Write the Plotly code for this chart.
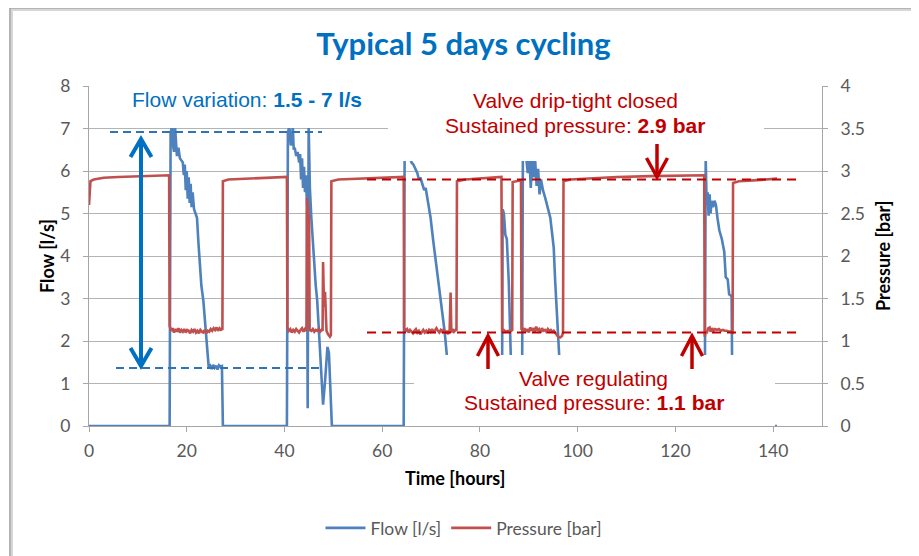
import plotly.graph_objects as go

# ---------------- data ----------------
flow_t = [0, 16.5,
          16.7, 17.0, 17.2, 17.4, 17.6, 17.8, 18.0, 18.3, 18.6, 18.9, 19.2, 19.4, 19.6, 19.8,
          20.0, 20.2, 20.4, 20.6, 20.8, 21.0, 21.2, 21.5, 21.8, 22.1, 22.4, 22.7, 23.0, 23.4,
          23.7, 24.0, 24.3, 24.5, 24.8, 25.1, 25.4, 25.7, 26.0, 26.3, 26.6, 26.9, 27.2, 27.4,
          40.5,
          40.7, 41.0, 41.3, 41.5, 41.7, 41.9, 42.1, 42.4, 42.7, 43.0, 43.2, 43.4, 43.6, 43.8,
          44.0, 44.2, 44.4, 44.6, 44.75, 44.95, 45.2, 45.5, 45.8, 46.1, 46.4, 46.7, 47.0, 47.3,
          47.6, 47.9, 48.3, 48.6, 48.8, 49.1, 49.4, 49.7,
          64.4,
          64.6, 65.1, 65.6, 66.0, 66.4, 66.8, 67.2, 67.5, 67.8, 68.2, 68.6, 68.9, 69.2, 69.6,
          69.9, 70.4, 70.8, 71.1, 71.5, 71.8, 72.1, 72.4, 72.8, 73.2, 73.5, 73.7,
          84.5,
          84.65, 84.9, 85.2, 85.5, 85.9, 86.3, 86.6,
          88.6,
          88.8, 89.2, 89.5, 89.8, 90.1, 90.4, 90.7, 91.0, 91.3, 91.6, 91.9, 92.2, 92.5, 92.9,
          93.4, 93.9, 94.4, 94.8, 95.1, 95.4, 95.8, 96.2, 96.5,
          126.0,
          126.2, 126.4, 126.6, 126.8, 127.0, 127.2, 127.4, 127.7, 128.0, 128.3, 128.6, 129.0,
          129.5, 130.0, 130.3, 130.7, 131.0, 131.5, 131.7,
          140.8]
flow_v = [0, 0,
          6.9, 7.05, 6.6, 6.45, 7.05, 6.5, 6.35, 6.55, 6.3, 6.25, 6.2, 5.9, 6.15, 5.55,
          6.0, 5.35, 5.85, 5.25, 5.7, 5.15, 5.5, 5.1, 5.0, 4.9, 4.3, 3.8, 3.3, 2.95,
          2.5, 2.2, 1.6, 1.38, 1.42, 1.34, 1.44, 1.37, 1.42, 1.33, 1.43, 1.40, 1.41, 0,
          0,
          6.9, 7.05, 6.6, 6.7, 7.05, 6.5, 6.55, 6.35, 6.45, 6.2, 6.4, 5.8, 6.3, 5.6,
          6.1, 5.5, 5.9, 5.2, 0.42, 7.05, 5.6, 4.9, 4.3, 3.8, 3.3, 2.95, 2.3, 1.7,
          1.3, 0.5, 1.05, 1.5, 1.86, 1.72, 0.68, 0,
          0,
          6.8, 6.6, 6.4, 6.2, 6.15, 6.05, 5.95, 5.8, 5.85, 5.7, 5.55, 5.6, 5.4, 5.1,
          4.9, 4.4, 4.05, 3.75, 3.45, 3.2, 2.9, 2.65, 2.2, 1.7, 0.8, 0,
          0,
          5.1, 5.0, 4.5, 4.4, 3.4, 1.7, 0,
          0,
          6.8, 6.6, 6.3, 5.95, 6.4, 5.6, 6.3, 5.85, 6.25, 5.65, 6.05, 5.45, 5.8, 5.55,
          5.35, 5.1, 4.9, 4.5, 4.2, 3.4, 2.55, 1.7, 0,
          0,
          6.3, 5.2, 5.5, 4.95, 5.45, 5.0, 5.3, 5.15, 5.3, 5.2, 4.9, 4.6,
          4.4, 4.1, 3.5, 3.45, 3.1, 3.05, 0,
          0]

pres_t = [0, 0.3, 1.0, 3, 6, 10, 16.4,
          16.5, 16.8, 17.1, 17.4, 17.7, 18.0, 18.3, 18.6, 18.9, 19.2, 19.5, 19.8, 20.1, 20.4,
          20.7, 21.0, 21.3, 21.6, 21.9, 22.2, 22.5, 22.8, 23.1, 23.4, 23.7, 24.0, 24.3, 24.6,
          24.9, 25.2, 25.5, 25.8, 26.1, 26.4, 26.7, 27.0, 27.3,
          27.4, 28.5, 32, 36, 40.5,
          40.6, 40.9, 41.2, 41.5, 41.8, 42.1, 42.4, 42.7, 43.0, 43.3, 43.6, 43.9, 44.2, 44.5,
          44.6, 44.9, 45.05, 45.15, 45.5, 45.8, 46.1, 46.4, 46.7, 47.0, 47.3, 47.6, 47.8,
          47.9, 48.1, 48.3, 48.6, 48.9, 49.3, 49.5,
          49.6, 51, 55, 60, 64.4,
          64.5, 64.8, 65.1, 65.4, 65.7, 66.0, 66.3, 66.6, 66.9, 67.2, 67.5, 67.8, 68.1, 68.4,
          68.7, 69.0, 69.3, 69.6, 69.9, 70.2, 70.5, 70.8, 71.1, 71.4, 71.7, 72.0, 72.3, 72.6,
          72.9, 73.2, 73.5, 73.8, 74.0, 74.15, 74.4, 74.7, 75.0, 75.2,
          75.3, 77, 80, 84.4,
          84.55, 84.9, 85.3, 85.7, 86.1, 86.6,
          86.7, 87.6, 88.4,
          88.5, 88.8, 89.1, 89.4, 89.7, 90.0, 90.3, 90.6, 90.9, 91.2, 91.5, 91.8, 92.1, 92.4,
          92.7, 93.0, 93.3, 93.6, 93.9, 94.2, 94.5, 94.8, 95.1, 95.4, 95.7, 96.0, 96.4, 96.8,
          97.0,
          97.1, 98.5, 102, 108, 115, 120, 125.9,
          126.0, 126.2, 126.4, 126.7, 127.0, 127.2, 127.5, 127.8, 128.1, 128.5, 128.9, 129.3,
          129.7, 130.1, 130.5, 130.9, 131.3, 131.7,
          131.8, 133, 136, 138.5, 140.8]
pres_v = [2.60, 2.88, 2.90, 2.92, 2.93, 2.94, 2.95,
          1.18, 1.12, 1.15, 1.10, 1.14, 1.11, 1.15, 1.10, 1.13, 1.11, 1.14, 1.10, 1.13, 1.12,
          1.09, 1.13, 1.11, 1.14, 1.10, 1.12, 1.09, 1.13, 1.11, 1.10, 1.13, 1.09, 1.12, 1.11,
          1.14, 1.12, 1.15, 1.13, 1.16, 1.12, 1.15, 1.13, 1.14,
          2.88, 2.90, 2.91, 2.92, 2.93,
          1.16, 1.12, 1.14, 1.10, 1.13, 1.11, 1.14, 1.12, 1.10, 1.13, 1.15, 1.11, 1.14, 1.12,
          2.68, 2.50, 2.42, 1.13, 1.12, 1.14, 1.11, 1.13, 1.12, 1.14, 1.11, 1.13, 1.12,
          1.93, 1.40, 1.58, 1.12, 1.08, 1.05, 1.07,
          2.88, 2.90, 2.91, 2.92, 2.93,
          1.15, 1.12, 1.14, 1.10, 1.13, 1.11, 1.09, 1.12, 1.14, 1.10, 1.12, 1.08, 1.11, 1.13,
          1.10, 1.12, 1.09, 1.13, 1.11, 1.14, 1.10, 1.12, 1.15, 1.12, 1.10, 1.13, 1.11, 1.14,
          1.09, 1.12, 1.08, 1.13, 1.57, 1.10, 1.14, 1.11, 1.13, 1.12,
          2.88, 2.90, 2.91, 2.93,
          1.12, 1.13, 1.11, 1.12, 1.11, 1.13,
          2.87, 2.88, 2.89,
          1.14, 1.12, 1.15, 1.11, 1.14, 1.10, 1.16, 1.12, 1.15, 1.11, 1.17, 1.12, 1.14, 1.10,
          1.15, 1.12, 1.13, 1.11, 1.14, 1.12, 1.13, 1.11, 1.12, 1.10, 1.07, 1.05, 1.04, 1.06,
          1.10,
          2.88, 2.90, 2.91, 2.93, 2.94, 2.945, 2.95,
          1.05, 1.12, 1.09, 1.15, 1.16, 1.11, 1.15, 1.12, 1.14, 1.13, 1.14, 1.12,
          1.13, 1.12, 1.12, 1.11, 1.11, 1.10,
          2.86, 2.88, 2.89, 2.90, 2.91]

x_ticks = [0, 20, 40, 60, 80, 100, 120, 140]
flow_ticks = [0, 1, 2, 3, 4, 5, 6, 7, 8]
pres_ticks = [0, 0.5, 1, 1.5, 2, 2.5, 3, 3.5, 4]
pres_closed = 2.9
pres_regulating = 1.1

# ---------------- geometry helpers (screen pixels) ----------------
W, H = 919, 556
OFF = 8                        # page body offset of the figure on screen
SL, ST, SR, SB = 89, 86, 822, 426   # plot area on screen
PW, PH = SR - SL, SB - ST
ML, MT = SL - OFF, ST - OFF
MR, MB = W - ML - PW, H - MT - PH
X_MAX, Y_MAX, Y2_MAX = 150, 8, 4


def px(xp):
    return (xp - SL) / PW


def py(yp):
    return (SB - yp) / PH


def tx(xp):
    return (xp - SL) / PW * X_MAX


def fy(yp):
    return (SB - yp) / PH * Y_MAX


BLUE = "#4F81BD"
RED = "#C0504D"
DBLUE = "#0070C0"
DRED = "#C00000"
GRID = "#B4B4B4"
AXIS = "#A6A6A6"

fig = go.Figure()
fig.add_trace(go.Scatter(x=flow_t, y=flow_v, mode="lines", name="Flow [l/s]",
                         line=dict(color=BLUE, width=2.6), yaxis="y"))
fig.add_trace(go.Scatter(x=pres_t, y=pres_v, mode="lines", name="Pressure [bar]",
                         line=dict(color=RED, width=2.6), yaxis="y2"))

shapes = []
# outer chart frame with light shadow
shapes.append(dict(type="rect", xref="paper", yref="paper", x0=px(12), x1=px(915),
                   y0=py(585), y1=py(10), line=dict(color="#D6D6D6", width=2), layer="above"))
shapes.append(dict(type="rect", xref="paper", yref="paper", x0=px(10), x1=px(913),
                   y0=py(585), y1=py(8), line=dict(color="#9C9C9C", width=1.5), layer="above"))
# white text boxes lying on top of the plot
for (xa, xb, ya, yb) in [(93, 388, 128, 78), (388, 764, 161, 78), (414, 775, 437, 355)]:
    shapes.append(dict(type="rect", xref="x", yref="y", x0=tx(xa), x1=tx(xb),
                       y0=fy(ya), y1=fy(yb), fillcolor="white", line=dict(width=0),
                       layer="above"))
# dashed reference lines
for (xa, xb, yp) in [(110, 322, 132), (116, 322, 368)]:
    shapes.append(dict(type="line", xref="x", yref="y", x0=tx(xa), x1=tx(xb),
                       y0=fy(yp), y1=fy(yp), line=dict(color="#2E75B6", width=2, dash="8px,5px"),
                       layer="above"))
for yv in [pres_closed, pres_regulating]:
    shapes.append(dict(type="line", xref="x", yref="y2", x0=tx(367), x1=tx(797),
                       y0=yv, y1=yv, line=dict(color=DRED, width=2, dash="9px,6px"),
                       layer="above"))


def arrow(xc, ya, yb, tip_y, arm_y, color, width):
    shapes.append(dict(type="line", xref="x", yref="y", x0=tx(xc), x1=tx(xc),
                       y0=fy(ya), y1=fy(yb), line=dict(color=color, width=width), layer="above"))
    path = "M {:.4f},{:.4f} L {:.4f},{:.4f} L {:.4f},{:.4f}".format(
        tx(xc - 10.5), fy(arm_y), tx(xc), fy(tip_y), tx(xc + 10.5), fy(arm_y))
    shapes.append(dict(type="path", xref="x", yref="y", path=path,
                       line=dict(color=color, width=width), layer="above"))


# blue double arrow (flow variation)
arrow(141, 140, 364, 139, 157, DBLUE, 4)
arrow(141, 364, 140, 366, 348, DBLUE, 4)
# red arrows
arrow(657, 144, 176, 177, 158, DRED, 3.5)
arrow(488, 369, 338, 336, 356, DRED, 3.5)
arrow(692, 369, 338, 336, 356, DRED, 3.5)

TXT = "Liberation Sans"
ann = []


def label(xp, yp, text, color, size=21, family=TXT, angle=0):
    ann.append(dict(x=px(xp), y=py(yp), xref="paper", yref="paper", text=text,
                    showarrow=False, xanchor="center", yanchor="middle", textangle=angle,
                    font=dict(family=family, size=size, color=color)))


label(246.5, 100, "Flow variation: <b>1.5 - 7 l/s</b>", DBLUE)
label(575, 101, "Valve drip-tight closed", DRED)
label(575, 125, "Sustained pressure: <b>2.9 bar</b>", DRED)
label(593, 378, "Valve regulating", DRED)
label(594, 402, "Sustained pressure: <b>1.1 bar</b>", DRED)
label(47, 256, "<b>Flow [l/s]</b>", "#000000", size=18, family="Lato", angle=-90)
label(883, 256, "<b>Pressure [bar]</b>", "#000000", size=18, family="Lato", angle=-90)
label(455, 478, "<b>Time [hours]</b>", "#000000", size=18, family="Lato")

fig.update_layout(
    width=W, height=H,
    margin=dict(l=ML, r=MR, t=MT, b=MB, autoexpand=False),
    paper_bgcolor="white", plot_bgcolor="white",
    font=dict(family="Lato", size=17.5, color="#595959"),
    title=dict(text="<b>Typical 5 days cycling</b>", x=(463.5 - OFF) / W, xanchor="center",
               y=1 - (44 - OFF) / H, yanchor="middle",
               font=dict(family="Lato", size=31, color=DBLUE)),
    xaxis=dict(range=[0, X_MAX], tickvals=x_ticks, showgrid=False, zeroline=False,
               showline=True, linecolor=AXIS, linewidth=1, ticks="outside", ticklen=5,
               tickcolor=AXIS, ticklabelstandoff=4),
    yaxis=dict(range=[0, Y_MAX], tickvals=flow_ticks, showgrid=True, gridcolor=GRID,
               gridwidth=1, zeroline=False, showline=True, linecolor=AXIS, linewidth=1,
               ticks="outside", ticklen=5, tickcolor=AXIS, ticklabelstandoff=9),
    yaxis2=dict(range=[0, Y2_MAX], tickvals=pres_ticks, overlaying="y", side="right",
                showgrid=False, zeroline=False, showline=True, linecolor=AXIS, linewidth=1,
                ticks="outside", ticklen=5, tickcolor=AXIS, ticklabelstandoff=9),
    legend=dict(orientation="h", x=px(464), xanchor="center", y=py(528), yanchor="middle",
                font=dict(family="Lato", size=17.5, color="#595959"), itemwidth=40,
                bgcolor="rgba(0,0,0,0)"),
    shapes=shapes,
    annotations=ann,
)

fig.write_html("out.html")
